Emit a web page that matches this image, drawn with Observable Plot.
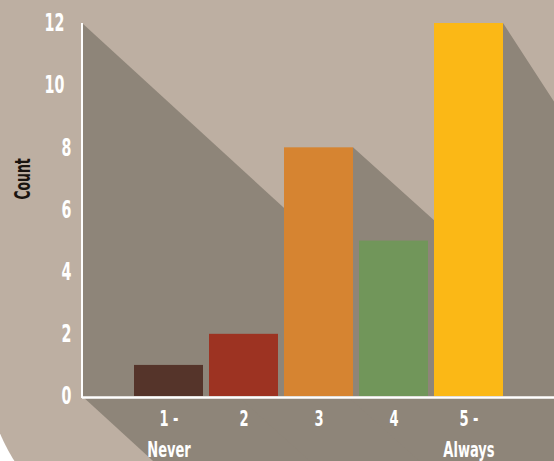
<!DOCTYPE html>
<html>
<head>
<meta charset="utf-8">
<script src="https://cdn.jsdelivr.net/npm/d3@7"></script>
<script src="https://cdn.jsdelivr.net/npm/@observablehq/plot@0.6"></script>
<style>
  html, body { margin: 0; padding: 0; background: #ffffff; overflow: hidden; width: 554px; height: 461px; }
  #card { position: absolute; left: -16px; top: 0; width: 570px; height: 555px; background: #BDAFA2; border-bottom-left-radius: 200px; }
  #chart { position: absolute; left: 0; top: 0; }
</style>
</head>
<body>
<div id="card"></div>
<div id="chart"></div>
<script>
// Survey answers: how many respondents picked each point of the scale
const categories = ["1 - Never", "2", "3", "4", "5 - Always"];
const counts = [1, 2, 8, 5, 12];
const yTicks = [0, 2, 4, 6, 8, 10, 12];
const yLabel = "Count";

// Palette and the long-shadow look
const barColors = ["#55342A", "#9D3322", "#D68431", "#71965A", "#FBB816"];
const shadowFill = "#8E8579";
const axisShadowSlope = 0.915;
const barShadowSlopes = [0.9, 0.9, 0.9, 0.9, 1.54];
const squeeze = 0.66; // horizontal condensing of the lettering

const data = categories.map((category, i) => ({category, count: counts[i]}));

const chart = Plot.plot({
  width: 554,
  height: 461,
  marginLeft: 82,
  marginRight: 0,
  marginTop: 23,
  marginBottom: 65,
  style: {
    background: "transparent",
    color: "#ffffff",
    fontFamily: "'DejaVu Sans Condensed', 'DejaVu Sans', sans-serif",
    fontWeight: "bold",
    overflow: "visible"
  },
  x: {domain: categories, paddingInner: 0.086, paddingOuter: 0.669, label: null},
  y: {domain: [0, 12], label: null},
  color: {domain: categories, range: barColors},
  marks: [
    Plot.barY(data, {x: "category", y: "count", fill: "category"}),
    Plot.ruleY([0], {stroke: "#ffffff", strokeWidth: 2.5, dy: 1}),
    Plot.axisY(yTicks, {
      tickSize: 0,
      tickPadding: 11,
      fontSize: 24,
      fill: "#ffffff",
      tickFormat: (d) => (d >= 10 ? d + "\u2002" : String(d))
    }),
    Plot.axisX({
      tickSize: 0,
      tickPadding: 7,
      fontSize: 22,
      lineHeight: 1.42,
      fill: "#ffffff",
      tickFormat: (d) => d.replace(" - ", " -\n")
    }),
    Plot.text([yLabel], {
      frameAnchor: "left",
      textAnchor: "middle",
      y: [7],
      dx: -59,
      rotate: -90,
      fill: "#1a1410",
      fontSize: 21
    })
  ]
});

document.getElementById("chart").appendChild(chart);

// Long shadows cast by the axis and by each bar, built from the plot's scales
const svg = d3.select(chart);
const xs = chart.scale("x");
const ys = chart.scale("y");
const yPx = d3.scaleLinear(ys.domain, ys.range);
const left = xs.range[0];
const y0 = yPx(0);
const yTop = yPx(ys.domain[1]);
const reach = 800;

const shadows = svg.insert("g", "g").attr("fill", shadowFill);
shadows.append("path").attr("d",
  `M${left},${yTop}L${left + reach},${yTop + reach * axisShadowSlope}` +
  `L${left + reach},${y0 + reach * axisShadowSlope}L${left},${y0}Z`);

svg.selectAll('g[aria-label="bar"] rect').each(function (_, i) {
  const x = +this.getAttribute("x");
  const y = +this.getAttribute("y");
  const w = +this.getAttribute("width");
  const h = +this.getAttribute("height");
  const xr = x + w;
  const k = barShadowSlopes[i];
  shadows.append("path").attr("d",
    `M${xr},${y}L${xr + reach},${y + reach * k}L${xr + reach},${y + h}L${xr},${y + h}Z`);
});

// Vertical axis line
svg.append("line")
  .attr("x1", left).attr("x2", left)
  .attr("y1", yTop).attr("y2", y0 + 2)
  .attr("stroke", "#ffffff")
  .attr("stroke-width", 2);

// Condense every label along its reading direction
svg.selectAll("text").each(function () {
  const t = this.getAttribute("transform") || "";
  const x = parseFloat(this.getAttribute("x")) || 0;
  this.setAttribute("transform",
    `${t} translate(${x},0) scale(${squeeze},1) translate(${-x},0)`);
});
</script>
</body>
</html>
